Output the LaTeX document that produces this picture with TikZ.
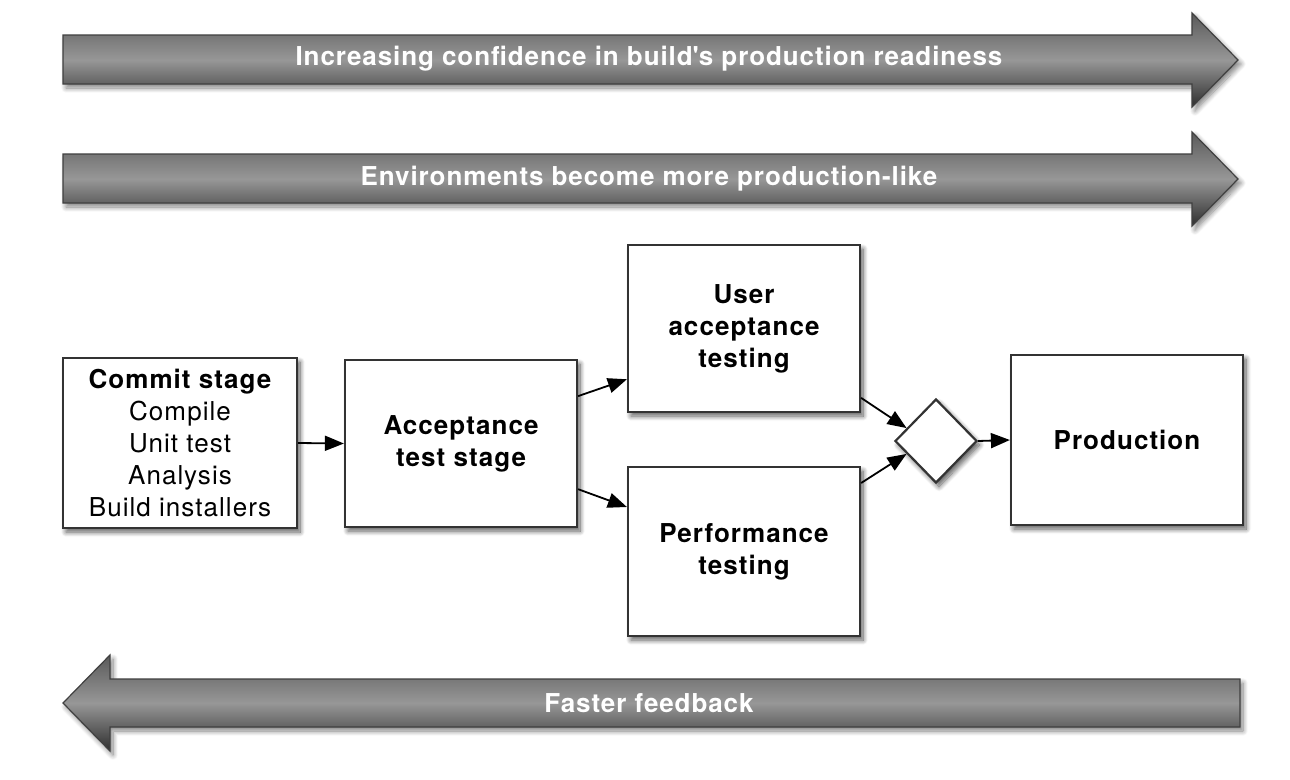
\documentclass[tikz,border=0pt]{standalone}
\usepackage{fontspec}
\setmainfont{TeX Gyre Heros}
\usetikzlibrary{arrows.meta,calc,shapes.geometric,shadows.blur}

\definecolor{edge}{HTML}{333333}
\definecolor{bandtop}{HTML}{5A5A5A}
\definecolor{bandmid}{HTML}{979797}
\definecolor{bandbot}{HTML}{2E2E2E}

\tikzset{
  softshadow/.style={blur shadow={shadow xshift=3pt, shadow yshift=-4pt, shadow blur radius=5pt,
    shadow blur steps=10, shadow opacity=#1}},
  stagebox/.style={draw=edge, line width=2.2pt, fill=white, align=center,
    font=\fontsize{26}{32}\selectfont\addfontfeatures{LetterSpace=4}\bfseries,
    softshadow=65},
  gate/.style={diamond, draw=edge, line width=2.2pt, fill=white, inner sep=0pt,
    minimum width=82pt, minimum height=84pt, softshadow=65},
  flow/.style={draw=black, line width=1.8pt, -{Triangle[length=19pt,width=15pt]}},
  band/.style={draw=black!75, line width=1.2pt, top color=bandtop, bottom color=bandbot, middle color=bandmid,
    softshadow=50},
  bandtext/.style={text=white, font=\fontsize{26}{30}\selectfont\addfontfeatures{LetterSpace=3.5}\bfseries}
}

\begin{document}
\begin{tikzpicture}[x=1pt,y=-1pt]
  \useasboundingbox (0,0) rectangle (1290,779);

  % wide progress arrows
  \path[band] (63,35) -- (1192,35) -- (1192,13) -- (1238,60) -- (1192,107) -- (1192,84) -- (63,84) -- cycle;
  \node[bandtext] (confidence) at (649,59) {Increasing confidence in build\textquotesingle s production readiness};

  \path[band] (63,154) -- (1192,154) -- (1192,132) -- (1238,179) -- (1192,226) -- (1192,203) -- (63,203) -- cycle;
  \node[bandtext] (envs) at (649,179) {Environments become more production-like};

  \path[band] (1240,679) -- (110,679) -- (110,655) -- (63,703) -- (110,751) -- (110,727) -- (1240,727) -- cycle;
  \node[bandtext] (feedback) at (649,703) {Faster feedback};

  % pipeline stages
  \node[stagebox, minimum width=234pt, minimum height=170pt] (commit) at (180,443)
    {Commit stage\\ \mdseries Compile\\ \mdseries Unit test\\ \mdseries Analysis\\ \mdseries Build installers};
  \node[stagebox, minimum width=232pt, minimum height=167pt] (accept) at (461,443.5)
    {Acceptance\\ test stage};
  \node[stagebox, minimum width=232pt, minimum height=167pt] (uat) at (744,328.5)
    {User\\ acceptance\\ testing};
  \node[stagebox, minimum width=232pt, minimum height=169pt] (perf) at (744,551.5)
    {Performance\\ testing};
  \node[gate] (gate) at (936,441) {};
  \node[stagebox, minimum width=232pt, minimum height=170pt] (prod) at (1127,440)
    {Production};

  % connectors
  \draw[flow] (commit.east) -- (accept.west);
  \draw[flow] ($(accept.north east)!0.22!(accept.south east)$) -- ($(uat.south west)!0.2!(uat.north west)$);
  \draw[flow] ($(accept.north east)!0.77!(accept.south east)$) -- ($(perf.north west)!0.24!(perf.south west)$);
  \draw[flow] ($(uat.north east)!0.91!(uat.south east)$) -- ($(gate.west)!0.3!(gate.north)$);
  \draw[flow] ($(perf.north east)!0.1!(perf.south east)$) -- ($(gate.west)!0.3!(gate.south)$);
  \draw[flow] (gate.east) -- (prod.west);
\end{tikzpicture}
\end{document}
